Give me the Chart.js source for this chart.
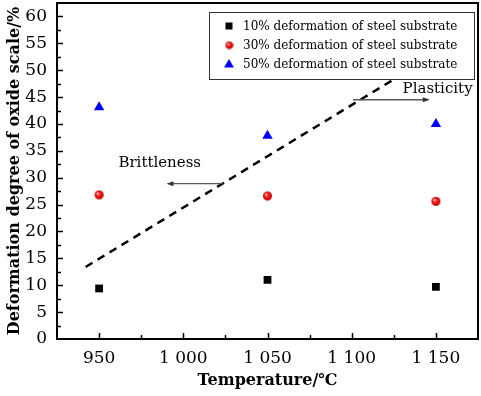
<!DOCTYPE html>
<html>
<head>
<meta charset="utf-8">
<script src="https://cdn.jsdelivr.net/npm/chart.js@4/dist/chart.umd.min.js"></script>
<style>
  html, body { margin: 0; padding: 0; background: #fff; }
  #wrap { width: 481px; height: 396px; }
</style>
</head>
<body>
<div id="wrap"><canvas id="chart" width="481" height="396"></canvas></div>
<script>
// values
var temperatures = [950, 1050, 1150];
var def10 = [9.4, 11.0, 9.7];
var def30 = [26.8, 26.6, 25.6];
var def50 = [43.1, 37.8, 40.0];
var seriesLabels = ['10% deformation of steel substrate',
                    '30% deformation of steel substrate',
                    '50% deformation of steel substrate'];

// brittle / plastic boundary (dashed)
var boundaryX = [942, 1124.5];
var boundaryY = [13.4, 48.2];

// annotations
var noteLabels = ['Brittleness', 'Plasticity'];
var noteX = [986, 1151];
var noteY = [32.8, 46.4];
var arrowStartX = [1023.5, 1100.7];
var arrowEndX = [990, 1146.4];
var arrowY = [28.9, 44.5];

var xTickValues = [950, 1000, 1050, 1100, 1150];
var xTickLabels = ['950', '1 000', '1 050', '1 100', '1 150'];
var yTickValues = [0, 5, 10, 15, 20, 25, 30, 35, 40, 45, 50, 55, 60];

var FONT = "'DejaVu Serif', 'Liberation Serif', serif";
Chart.defaults.font.family = FONT;
Chart.defaults.color = '#000';

// red shaded ball marker
function makeBall(r) {
    var c = document.createElement('canvas');
    c.width = c.height = r * 2 + 2;
    var g = c.getContext('2d');
    var cx = r + 1, cy = r + 1;
    var grad = g.createRadialGradient(cx - r * 0.35, cy - r * 0.35, 0.3, cx, cy, r);
    grad.addColorStop(0, '#ffffff');
    grad.addColorStop(0.3, '#ff3030');
    grad.addColorStop(0.8, '#e00000');
    grad.addColorStop(1, '#a00000');
    g.fillStyle = grad;
    g.beginPath();
    g.arc(cx, cy, r, 0, Math.PI * 2);
    g.fill();
    return c;
}
var ball = makeBall(4.5);
var ballSmall = makeBall(3.8);

function pts(xs, ys) {
    return xs.map(function (x, i) { return {x: x, y: ys[i]}; });
}

function drawArrow(ctx, x1, y1, x2, y2) {
    var ang = Math.atan2(y2 - y1, x2 - x1);
    ctx.beginPath();
    ctx.moveTo(x1, y1);
    ctx.lineTo(x2 - Math.cos(ang) * 5, y2 - Math.sin(ang) * 5);
    ctx.stroke();
    ctx.beginPath();
    ctx.moveTo(x2, y2);
    ctx.lineTo(x2 - Math.cos(ang) * 7 - Math.sin(ang) * 2.5, y2 - Math.sin(ang) * 7 + Math.cos(ang) * 2.5);
    ctx.lineTo(x2 - Math.cos(ang) * 7 + Math.sin(ang) * 2.5, y2 - Math.sin(ang) * 7 - Math.cos(ang) * 2.5);
    ctx.closePath();
    ctx.fill();
}

var decorPlugin = {
    id: 'decor',
    afterDatasetsDraw: function (chart) {
        var ctx = chart.ctx;
        var a = chart.chartArea;
        var xs = chart.scales.x, ys = chart.scales.y;
        ctx.save();

        // inward ticks
        ctx.strokeStyle = '#000';
        ctx.lineWidth = 1.5;
        ctx.beginPath();
        for (var v = 950; v <= 1150; v += 25) {
            var px = Math.round(xs.getPixelForValue(v)) + 0.5;
            var len = (v % 50 === 0) ? 6 : 4;
            ctx.moveTo(px, a.bottom);
            ctx.lineTo(px, a.bottom - len);
        }
        for (var w = 2.5; w <= 60; w += 2.5) {
            var py = Math.round(ys.getPixelForValue(w)) + 0.5;
            var l2 = (w % 5 === 0) ? 6 : 4;
            ctx.moveTo(a.left, py);
            ctx.lineTo(a.left + l2, py);
        }
        ctx.stroke();

        // frame
        ctx.lineWidth = 2;
        ctx.strokeRect(a.left, a.top, a.right - a.left, a.bottom - a.top);

        // arrows and notes
        ctx.strokeStyle = '#555';
        ctx.fillStyle = '#333';
        ctx.lineWidth = 1.3;
        for (var i = 0; i < noteLabels.length; i++) {
            drawArrow(ctx,
                xs.getPixelForValue(arrowStartX[i]), ys.getPixelForValue(arrowY[i]),
                xs.getPixelForValue(arrowEndX[i]), ys.getPixelForValue(arrowY[i]));
        }
        ctx.fillStyle = '#000';
        ctx.font = '15px ' + FONT;
        ctx.textAlign = 'center';
        ctx.textBaseline = 'middle';
        for (var j = 0; j < noteLabels.length; j++) {
            ctx.fillText(noteLabels[j], xs.getPixelForValue(noteX[j]), ys.getPixelForValue(noteY[j]));
        }

        // legend box
        var bx = a.right - 269, by = a.top + 9, bw = 265, bh = 67;
        ctx.fillStyle = '#fff';
        ctx.fillRect(bx, by, bw, bh);
        ctx.strokeStyle = '#333';
        ctx.lineWidth = 1;
        ctx.strokeRect(bx + 0.5, by + 0.5, bw, bh);
        ctx.font = '12px ' + FONT;
        ctx.textAlign = 'left';
        ctx.fillStyle = '#000';
        for (var k = 0; k < seriesLabels.length; k++) {
            var my = by + 14 + k * 19;
            var mx = bx + 20;
            if (k === 0) {
                ctx.fillStyle = '#000';
                ctx.fillRect(mx - 3.5, my - 3.5, 7, 7);
            } else if (k === 1) {
                ctx.drawImage(ballSmall, mx - ballSmall.width / 2, my - ballSmall.height / 2);
            } else {
                ctx.fillStyle = '#0000ff';
                ctx.beginPath();
                ctx.moveTo(mx, my - 5);
                ctx.lineTo(mx + 5, my + 3.5);
                ctx.lineTo(mx - 5, my + 3.5);
                ctx.closePath();
                ctx.fill();
            }
            ctx.fillStyle = '#000';
            ctx.fillText(seriesLabels[k], bx + 34, my + 1);
        }
        ctx.restore();
    }
};

new Chart(document.getElementById('chart'), {
    type: 'scatter',
    data: {
        datasets: [
            {label: seriesLabels[0], data: pts(temperatures, def10), pointStyle: 'rect',
             pointRadius: 5.5, backgroundColor: '#000', borderWidth: 0},
            {label: seriesLabels[1], data: pts(temperatures, def30), pointStyle: ball,
             pointRadius: 4.5},
            {label: seriesLabels[2], data: pts(temperatures, def50), pointStyle: 'triangle',
             pointRadius: 6, backgroundColor: '#0000ff', borderWidth: 0},
            {label: 'boundary', data: pts(boundaryX, boundaryY), showLine: true,
             borderColor: '#000', borderWidth: 2.5, borderDash: [8, 6], pointRadius: 0}
        ]
    },
    options: {
        responsive: false,
        animation: false,
        layout: {autoPadding: false, padding: {top: 3, right: 3, left: 0, bottom: 0}},
        plugins: {legend: {display: false}, tooltip: {enabled: false}},
        scales: {
            x: {
                type: 'linear', min: 925, max: 1175,
                grid: {display: false}, border: {display: false},
                afterBuildTicks: function (s) {
                    s.ticks = xTickValues.map(function (v) { return {value: v}; });
                },
                afterFit: function (s) {
                    s.height = 57;
                    s.paddingLeft = 0; s.paddingRight = 0;
                },
                ticks: {
                    padding: 1, maxRotation: 0, autoSkip: false,
                    font: {size: 17},
                    callback: function (v) {
                        var i = xTickValues.indexOf(v);
                        return i >= 0 ? xTickLabels[i] : '';
                    }
                },
                title: {display: true, text: 'Temperature/℃', font: {size: 16, weight: 'bold'},
                        padding: {top: 0, bottom: 6}}
            },
            y: {
                min: 0, max: 62.5,
                grid: {display: false}, border: {display: false},
                afterBuildTicks: function (s) {
                    s.ticks = yTickValues.map(function (v) { return {value: v}; });
                },
                afterFit: function (s) {
                    s.width = 57;
                    s.paddingTop = 0; s.paddingBottom = 0;
                },
                ticks: {padding: 2, autoSkip: false, font: {size: 17}},
                title: {display: true, text: 'Deformation degree of oxide scale/%',
                        font: {size: 16, weight: 'bold'}, padding: {top: 5, bottom: 0}}
            }
        }
    },
    plugins: [decorPlugin]
});
</script>
</body>
</html>
